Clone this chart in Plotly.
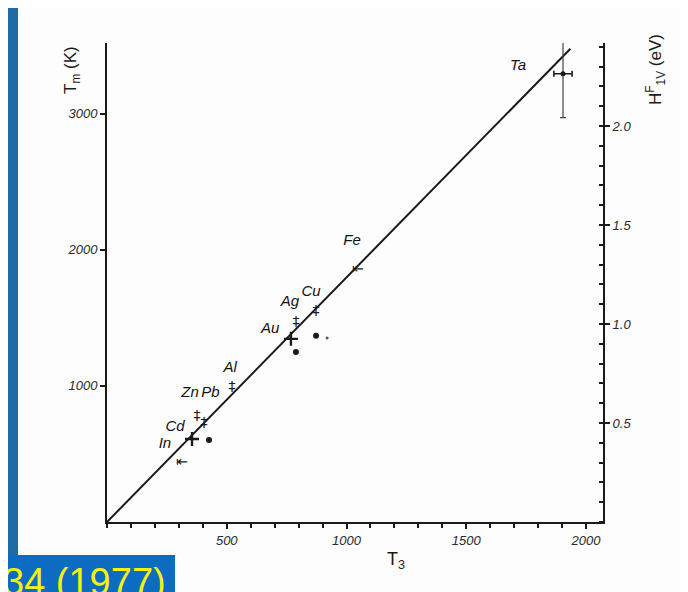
import plotly.graph_objects as go

# ---- data ----
fit_x = [0, 1935]
fit_y = [0, 3478]

cross_x = [768, 355]          # "+" markers (Au, Cd)
cross_y = [1346, 610]

dot_x = [789, 873, 426]        # filled dots
dot_y = [1250, 1368, 603]
small_dot_x = [919]
small_dot_y = [1353]

dd_x = [789, 873, 522, 376, 405]   # double-dagger markers
dd_y = [1463, 1544, 985, 772, 721]

arrow_x = [313, 1048]          # arrow markers (In, Fe)
arrow_y = [434, 1853]

ta_x = [1904]
ta_y = [3294]
ta_err_x = [38]
ta_err_y_plus = [265]
ta_err_y_minus = [323]

label_text = ["Ta", "Fe", "Cu", "Ag", "Au", "Al", "Zn", "Pb", "Cd", "In"]
label_x = [1716, 1023, 852, 764, 681, 514, 347, 432, 284, 242]
label_y = [3346, 2066, 1691, 1618, 1419, 1132, 949, 949, 699, 574]

x_tickvals = [500, 1000, 1500, 2000]
x_ticktext = ["500", "1000", "1500", "2000"]
yl_tickvals = [1000, 2000, 3000]
yl_ticktext = ["1000", "2000", "3000"]
yr_tickvals = [0.5, 1.0, 1.5, 2.0]
yr_ticktext = ["0.5", "1.0", "1.5", "2.0"]

INK = "#1a1a1a"
FONT = "Liberation Sans"

# page body adds an 8 px offset; positions below are given in window pixels
def px(X):
    return (X - 107) / 496.0

def py(Y):
    return (522 - Y) / 479.0

fig = go.Figure()

fig.add_trace(go.Scatter(x=fit_x, y=fit_y, mode="lines",
                         line=dict(color=INK, width=2), hoverinfo="skip"))
fig.add_trace(go.Scatter(x=cross_x, y=cross_y, mode="markers",
                         marker=dict(symbol="cross-thin", size=10,
                                     line=dict(color=INK, width=2.4))))
fig.add_trace(go.Scatter(x=dot_x, y=dot_y, mode="markers",
                         marker=dict(symbol="circle", size=6, color=INK)))
fig.add_trace(go.Scatter(x=small_dot_x, y=small_dot_y, mode="markers",
                         marker=dict(symbol="circle", size=3, color="#555")))
fig.add_trace(go.Scatter(x=dd_x, y=dd_y, mode="text", text=["‡"] * len(dd_x),
                         textfont=dict(family="DejaVu Sans", size=14, color=INK)))
fig.add_trace(go.Scatter(x=arrow_x, y=arrow_y, mode="text", text=["⇤"] * len(arrow_x),
                         textfont=dict(family="DejaVu Sans", size=14, color=INK)))
fig.add_trace(go.Scatter(x=ta_x, y=ta_y, mode="markers",
                         marker=dict(symbol="circle", size=5, color=INK),
                         error_x=dict(type="data", array=ta_err_x, color=INK,
                                      thickness=1.6, width=3),
                         error_y=dict(type="data", symmetric=False,
                                      array=ta_err_y_plus, arrayminus=ta_err_y_minus,
                                      color="#444", thickness=1.2, width=3)))
fig.add_trace(go.Scatter(x=label_x, y=label_y, mode="text", text=label_text,
                         textfont=dict(family=FONT, size=15, color="#111", style="italic")))

# invisible trace for right axis
fig.add_trace(go.Scatter(x=[0], y=[0], yaxis="y2", mode="markers",
                         marker=dict(opacity=0), hoverinfo="skip"))

tick_font = dict(family=FONT, size=13, color="#2a2a2a", style="italic")

fig.update_layout(
    width=688, height=592, autosize=False,
    margin=dict(l=99, r=93, t=35, b=78),
    paper_bgcolor="#1d6aa5",
    plot_bgcolor="rgba(0,0,0,0)",
    showlegend=False,
    xaxis=dict(range=[0, 2071], showgrid=False, zeroline=False,
               showline=True, linecolor=INK, linewidth=2,
               tickvals=x_tickvals, ticktext=x_ticktext,
               ticks="outside", ticklen=5, tickwidth=1.5, tickcolor=INK,
               tickfont=tick_font,
               minor=dict(dtick=100, tick0=0, ticks="outside", ticklen=4,
                          tickwidth=1.5, tickcolor=INK)),
    yaxis=dict(range=[0, 3520], showgrid=False, zeroline=False,
               showline=True, linecolor=INK, linewidth=2,
               tickvals=yl_tickvals, ticktext=yl_ticktext,
               ticks="outside", ticklen=5, tickwidth=1.5, tickcolor=INK,
               tickfont=tick_font),
    yaxis2=dict(range=[0, 2.419], overlaying="y", side="right", anchor="x",
                showgrid=False, zeroline=False,
                showline=True, linecolor=INK, linewidth=2,
                tickvals=yr_tickvals, ticktext=yr_ticktext,
                ticks="outside", ticklen=5, tickwidth=1.5, tickcolor=INK,
                tickfont=tick_font,
                minor=dict(dtick=0.1, tick0=0, ticks="inside", ticklen=4,
                           tickwidth=1.5, tickcolor=INK)),
    shapes=[
        dict(type="rect", xref="paper", yref="paper", layer="below",
             x0=px(18), x1=px(720), y0=py(620), y1=py(6),
             fillcolor="#fdfdfd", line=dict(width=0)),
        dict(type="rect", xref="paper", yref="paper", layer="above",
             x0=px(0), x1=px(175), y0=py(620), y1=py(555),
             fillcolor="#0b6cc2", line=dict(width=0)),
    ],
    annotations=[
        dict(text="T<sub>m</sub> (K)", xref="paper", yref="paper",
             x=px(72), y=py(70), textangle=-90, xanchor="center", yanchor="middle",
             showarrow=False, font=dict(family=FONT, size=17, color=INK)),
        dict(text="H<sup>F</sup><sub>1V</sub> (eV)", xref="paper", yref="paper",
             x=px(655), y=py(70), textangle=-90, xanchor="center", yanchor="middle",
             showarrow=False, font=dict(family=FONT, size=17, color=INK)),
        dict(text="T<sub>3</sub>", xref="paper", yref="paper",
             x=px(396), y=py(560), xanchor="center", yanchor="middle",
             showarrow=False, font=dict(family=FONT, size=18, color=INK)),
        dict(text="34 (1977)", xref="paper", yref="paper",
             x=px(168), y=py(582), xanchor="right", yanchor="middle",
             showarrow=False, font=dict(family=FONT, size=38, color="#f4f20e")),
    ],
)

fig.write_html("out.html")
